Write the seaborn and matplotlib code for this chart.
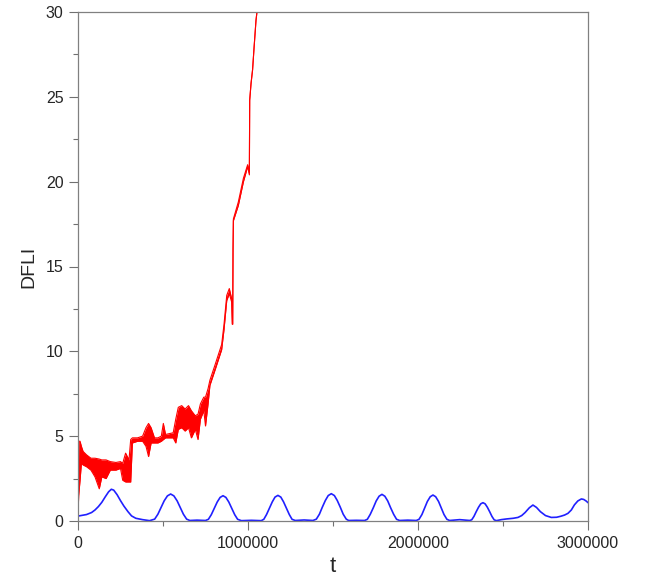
import numpy as np
import pandas as pd
import seaborn as sns
import matplotlib
matplotlib.use("Agg")
import matplotlib.pyplot as plt
from matplotlib.ticker import MultipleLocator

# red curve: time, lower and upper edge of the oscillating band
red_t = [0, 4000, 12000, 20000, 30000, 50000, 76000, 100000, 125000, 140000,
         165000, 190000, 223000, 250000, 263000, 280000, 300000, 310000, 320000,
         350000, 380000, 400000, 415000, 430000, 450000, 470000, 490000, 502000,
         515000, 560000, 575000, 590000, 610000, 630000, 650000, 667000, 690000,
         706000, 720000, 740000, 750000, 765000, 776000, 806000, 845000, 859000,
         875000, 890000, 904000, 908000, 910000, 912000, 914000, 943000, 973000,
         998000, 1008000, 1010000, 1018000, 1027000, 1035000, 1047000, 1055000]
red_lo = [0.3, 1.5, 2.4, 3.4, 3.3, 3.2, 3.0, 2.6, 1.9, 2.6,
          2.5, 3.0, 3.0, 3.1, 2.4, 2.3, 2.3, 2.3, 4.6,
          4.7, 4.7, 4.4, 3.8, 4.6, 4.6, 4.6, 4.7, 4.8,
          4.9, 4.9, 4.6, 5.4, 5.5, 5.3, 5.5, 4.9, 5.4,
          4.8, 6.0, 6.5, 5.6, 6.9, 8.0, 8.9, 10.1, 11.3,
          13.0, 13.4, 12.9, 11.6, 11.6, 16.0, 17.7, 18.6, 20.0,
          20.9, 20.4, 24.8, 25.8, 26.6, 27.8, 29.5, 30.2]
red_hi = [0.3, 4.7, 4.7, 4.4, 4.1, 3.9, 3.7, 3.7, 3.65, 3.6,
          3.6, 3.5, 3.45, 3.5, 3.4, 4.0, 3.6, 4.8, 4.9,
          4.9, 5.0, 5.5, 5.75, 5.5, 4.9, 4.9, 5.0, 5.75,
          5.1, 5.2, 6.0, 6.7, 6.8, 6.6, 6.8, 6.5, 6.2,
          6.3, 6.9, 7.3, 7.3, 7.8, 8.3, 9.2, 10.4, 11.6,
          13.3, 13.7, 13.1, 11.6, 11.6, 16.0, 17.8, 18.8, 20.2,
          21.0, 20.5, 24.8, 25.8, 26.6, 27.8, 29.5, 30.2]

# blue curve
blue_t = [0, 50000, 80000, 100000, 120000, 140000, 160000, 180000, 196000, 210000,
          230000, 250000, 270000, 294000, 315000, 340000, 380000, 421000,
          451000, 470000, 489000, 507000, 526000, 545000, 564000, 583000, 601000,
          620000, 639000, 658000, 700000, 750000,
          767000, 784000, 802000, 819000, 836000, 853000, 870000, 887000, 904000,
          922000, 939000, 961000, 1020000, 1078000,
          1093000, 1109000, 1126000, 1143000, 1159000, 1176000, 1193000, 1209000,
          1226000, 1243000, 1259000, 1278000, 1330000, 1382000,
          1402000, 1420000, 1437000, 1455000, 1472000, 1490000, 1508000, 1525000,
          1543000, 1560000, 1578000, 1592000, 1637000, 1686000,
          1702000, 1719000, 1737000, 1754000, 1771000, 1788000, 1805000, 1822000,
          1839000, 1857000, 1874000, 1892000, 1940000, 1990000,
          2006000, 2023000, 2039000, 2055000, 2072000, 2088000, 2104000, 2121000,
          2137000, 2153000, 2170000, 2186000, 2245000, 2304000,
          2316000, 2329000, 2342000, 2356000, 2369000, 2382000, 2395000, 2408000,
          2422000, 2435000, 2448000, 2461000,
          2490000, 2520000, 2560000, 2588000, 2610000, 2630000, 2655000, 2676000,
          2697000, 2720000, 2750000, 2784000, 2815000, 2840000, 2862000, 2882000,
          2902000, 2920000, 2940000, 2961000, 2975000, 2990000, 3000000]
blue_v = [0.29, 0.38, 0.5, 0.65, 0.85, 1.1, 1.42, 1.72, 1.87, 1.82,
          1.55, 1.2, 0.88, 0.55, 0.3, 0.16, 0.08, 0.02,
          0.11, 0.40, 0.80, 1.19, 1.48, 1.59, 1.48, 1.19, 0.80,
          0.40, 0.11, 0.03, 0.05, 0.03,
          0.10, 0.37, 0.75, 1.12, 1.39, 1.49, 1.39, 1.12, 0.75,
          0.37, 0.10, 0.02, 0.04, 0.02,
          0.10, 0.38, 0.76, 1.13, 1.41, 1.51, 1.41, 1.13,
          0.76, 0.38, 0.10, 0.03, 0.06, 0.03,
          0.11, 0.40, 0.81, 1.21, 1.50, 1.61, 1.50, 1.21,
          0.81, 0.40, 0.11, 0.03, 0.04, 0.03,
          0.10, 0.39, 0.78, 1.18, 1.46, 1.57, 1.46, 1.18,
          0.78, 0.39, 0.10, 0.03, 0.05, 0.03,
          0.10, 0.38, 0.77, 1.15, 1.43, 1.53, 1.43, 1.15,
          0.77, 0.38, 0.10, 0.03, 0.08, 0.03,
          0.07, 0.27, 0.54, 0.81, 1.01, 1.08, 1.01, 0.81,
          0.54, 0.27, 0.07, 0.02,
          0.08, 0.12, 0.16, 0.21, 0.32, 0.5, 0.78, 0.94,
          0.8, 0.55, 0.32, 0.21, 0.22, 0.28, 0.35, 0.45,
          0.65, 0.95, 1.18, 1.3, 1.27, 1.17, 1.08]

x_ticks = [0, 1000000, 2000000, 3000000]
y_ticks = [0, 5, 10, 15, 20, 25, 30]

sns.set_style("ticks")
plt.rcParams['font.family'] = ['Liberation Sans', 'DejaVu Sans']

red = pd.DataFrame({'t': red_t, 'lo': red_lo, 'hi': red_hi})
blue = pd.DataFrame({'t': blue_t, 'v': blue_v})

fig = plt.figure(figsize=(6.48, 5.78), dpi=100)
ax = fig.add_axes([78 / 648, 57 / 578, 510 / 648, 509 / 578])

ax.fill_between(red['t'], red['lo'], red['hi'], color='red', lw=0)
sns.lineplot(data=red, x='t', y='lo', color='red', lw=0.8, estimator=None, ax=ax)
sns.lineplot(data=red, x='t', y='hi', color='red', lw=0.8, estimator=None, ax=ax)
sns.lineplot(data=blue, x='t', y='v', color='#2020ff', lw=1.2, estimator=None, ax=ax)

ax.set_xlim(0, 3000000)
ax.set_ylim(0, 30)
ax.set_xticks(x_ticks)
ax.set_xticklabels([str(v) for v in x_ticks])
ax.set_yticks(y_ticks)
ax.xaxis.set_minor_locator(MultipleLocator(500000))
ax.yaxis.set_minor_locator(MultipleLocator(2.5))
ax.tick_params(which='major', direction='out', length=6.5, width=0.8,
               color='#707070', labelsize=11.5, pad=4)
ax.tick_params(which='minor', direction='out', length=3.5, width=0.8, color='#707070')
for s in ax.spines.values():
    s.set_color('#808080')
    s.set_linewidth(0.9)

ax.set_xlabel('t', fontsize=16, labelpad=4)
ax.set_ylabel('DFLI', fontsize=14, labelpad=6)

fig.savefig('out.png', dpi=100)
